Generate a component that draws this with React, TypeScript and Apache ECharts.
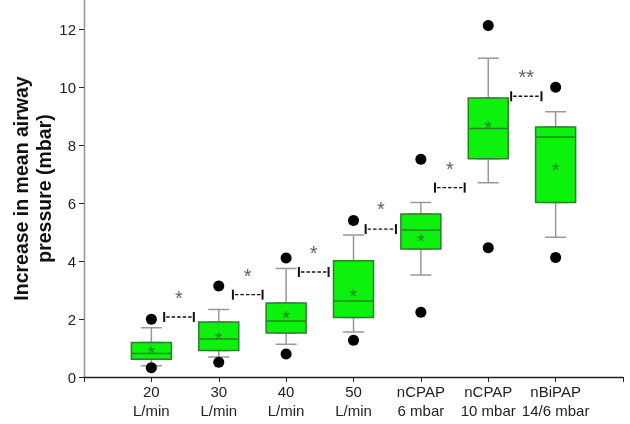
import React, { useEffect, useRef } from 'react';
import * as echarts from 'echarts';

// Treatment groups, placed at x = 1..7 on a 0..8 axis
const categories = [
  '20\nL/min',
  '30\nL/min',
  '40\nL/min',
  '50\nL/min',
  'nCPAP\n6 mbar',
  'nCPAP\n10 mbar',
  'nBiPAP\n14/6 mbar',
];

// Box-and-whisker statistics (mbar)
const whiskerLow = [0.39, 0.69, 1.13, 1.55, 3.52, 6.7, 4.82];
const q1 = [0.61, 0.91, 1.52, 2.05, 4.41, 7.53, 6.02];
const median = [0.81, 1.31, 1.93, 2.62, 5.07, 8.57, 8.28];
const q3 = [1.19, 1.9, 2.55, 4.01, 5.62, 9.62, 8.62];
const whiskerHigh = [1.7, 2.33, 3.74, 4.9, 6.02, 10.99, 9.15];
const means = [1.0, 1.48, 2.19, 2.97, 4.85, 8.77, 7.31];
const outlierHigh = [1.99, 3.14, 4.1, 5.4, 7.51, 12.12, 9.99];
const outlierLow = [0.32, 0.51, 0.79, 1.27, 2.23, 4.46, 4.12];

// Pairwise comparisons between neighbouring groups
const bracketStart = [1.19, 2.21, 3.19, 4.18, 5.21, 6.34];
const bracketEnd = [1.63, 2.65, 3.63, 4.63, 5.65, 6.79];
const bracketLevel = [2.07, 2.84, 3.62, 5.1, 6.53, 9.68];
const sigLabels = ['*', '*', '*', '*', '*', '**'];
const sigLevel = [2.91, 3.66, 4.46, 5.96, 7.33, 10.51];

const yTicks = [0, 2, 4, 6, 8, 10, 12];

const FONT = '"Liberation Sans", Arial, sans-serif';

export default function App() {
  const ref = useRef<HTMLDivElement>(null);

  useEffect(() => {
    const chart = echarts.init(ref.current!, null, { renderer: 'svg' });
    const xs = categories.map((_, i) => i + 1);

    const whiskerData = xs.map((x, i) => [x, whiskerLow[i], q1[i], median[i], q3[i], whiskerHigh[i]]);
    const boxData = xs.map((x, i) => [x, q1[i], q1[i], median[i], q3[i], q3[i]]);
    const meanData = xs.map((x, i) => [x, means[i]]);
    const outlierData = xs.flatMap((x, i) => [[x, outlierHigh[i]], [x, outlierLow[i]]]);
    const bracketData = bracketStart.map((s, i) => [s, bracketEnd[i], bracketLevel[i]]);
    const sigData = bracketStart.map((s, i) => [(s + bracketEnd[i]) / 2, sigLevel[i], sigLabels[i]]);

    const xBase = { type: 'value', min: 0, max: 8, interval: 1, splitLine: { show: false } };

    chart.setOption({
      animation: false,
      textStyle: { fontFamily: FONT },
      grid: { left: 84, right: 7, top: 0, bottom: 47, containLabel: false, outerBoundsMode: 'none' },
      xAxis: [
        {
          ...xBase,
          axisLine: { show: true, lineStyle: { color: '#222', width: 1.3 } },
          axisTick: { show: true, length: 5, lineStyle: { color: '#222', width: 1 } },
          axisLabel: {
            formatter: (v: number) => categories[v - 1] ?? '',
            fontSize: 15,
            lineHeight: 19,
            color: '#222',
            margin: 5,
            fontFamily: FONT,
          },
        },
        { ...xBase, show: false },
      ],
      yAxis: [
        {
          type: 'value',
          min: 0,
          max: 13,
          interval: 2,
          name: 'Increase in mean airway\npressure (mbar)',
          nameLocation: 'middle',
          nameGap: 28.5,
          nameMoveOverlap: false,
          nameTextStyle: { fontSize: 19.5, fontWeight: 'bold', color: '#111', lineHeight: 23, fontFamily: FONT },
          axisLine: { show: true, lineStyle: { color: '#222', width: 1.3 } },
          axisTick: { show: true, length: 5, customValues: yTicks, lineStyle: { color: '#222' } },
          axisLabel: {
            customValues: yTicks,
            formatter: (v: number) => (yTicks.includes(v) ? String(v) : ''),
            fontSize: 15,
            color: '#222',
            margin: 8,
            fontFamily: FONT,
          },
          splitLine: { show: false },
        },
        {
          type: 'value',
          min: 0,
          max: 13,
          position: 'right',
          axisLine: { show: true, lineStyle: { color: '#999', width: 1 } },
          axisTick: { show: false },
          axisLabel: { show: false },
          splitLine: { show: false },
        },
      ],
      series: [
        {
          // whiskers with short caps
          type: 'boxplot',
          layout: 'horizontal',
          xAxisIndex: 0,
          boxWidth: [21, 21],
          data: whiskerData,
          itemStyle: { color: 'rgba(0,0,0,0)', borderColor: '#999', borderWidth: 1.5 },
          z: 2,
        },
        {
          // interquartile box and median
          type: 'boxplot',
          layout: 'horizontal',
          xAxisIndex: 1,
          boxWidth: [40, 40],
          data: boxData,
          itemStyle: { color: '#0cf20c', borderColor: '#2a822a', borderWidth: 1.5 },
          z: 3,
        },
        {
          type: 'scatter',
          xAxisIndex: 0,
          data: outlierData,
          symbol: 'circle',
          symbolSize: 11,
          itemStyle: { color: '#000', opacity: 1 },
          z: 4,
        },
        {
          // mean markers
          type: 'scatter',
          xAxisIndex: 0,
          data: meanData,
          symbolSize: 1,
          itemStyle: { color: 'rgba(0,0,0,0)' },
          label: {
            show: true,
            position: 'inside',
            formatter: '*',
            fontSize: 20,
            color: '#1f6a1f',
            offset: [0, 5],
            fontFamily: FONT,
          },
          z: 5,
        },
        {
          type: 'custom',
          xAxisIndex: 0,
          data: bracketData,
          encode: { x: [0, 1], y: 2 },
          renderItem: (_params: any, api: any) => {
            const a = api.coord([api.value(0), api.value(2)]);
            const b = api.coord([api.value(1), api.value(2)]);
            return {
              type: 'group',
              children: [
                {
                  type: 'line',
                  shape: { x1: a[0] + 2, y1: a[1], x2: b[0] - 2, y2: b[1] },
                  style: { stroke: '#111', lineWidth: 1.4, lineDash: [3.5, 2] },
                },
                {
                  type: 'line',
                  shape: { x1: a[0], y1: a[1] - 5, x2: a[0], y2: a[1] + 5 },
                  style: { stroke: '#111', lineWidth: 2 },
                },
                {
                  type: 'line',
                  shape: { x1: b[0], y1: b[1] - 5, x2: b[0], y2: b[1] + 5 },
                  style: { stroke: '#111', lineWidth: 2 },
                },
              ],
            };
          },
          z: 6,
        },
        {
          // significance markers
          type: 'scatter',
          xAxisIndex: 0,
          data: sigData,
          symbolSize: 1,
          itemStyle: { color: 'rgba(0,0,0,0)' },
          label: {
            show: true,
            position: 'inside',
            formatter: (p: any) => p.value[2],
            fontSize: 20,
            color: '#3a3a3a',
            offset: [0, 5],
            fontFamily: FONT,
          },
          z: 6,
        },
      ],
    });

    return () => chart.dispose();
  }, []);

  return <div ref={ref} style={{ position: 'fixed', left: 0, top: 0, width: 630, height: 424 }} />;
}
